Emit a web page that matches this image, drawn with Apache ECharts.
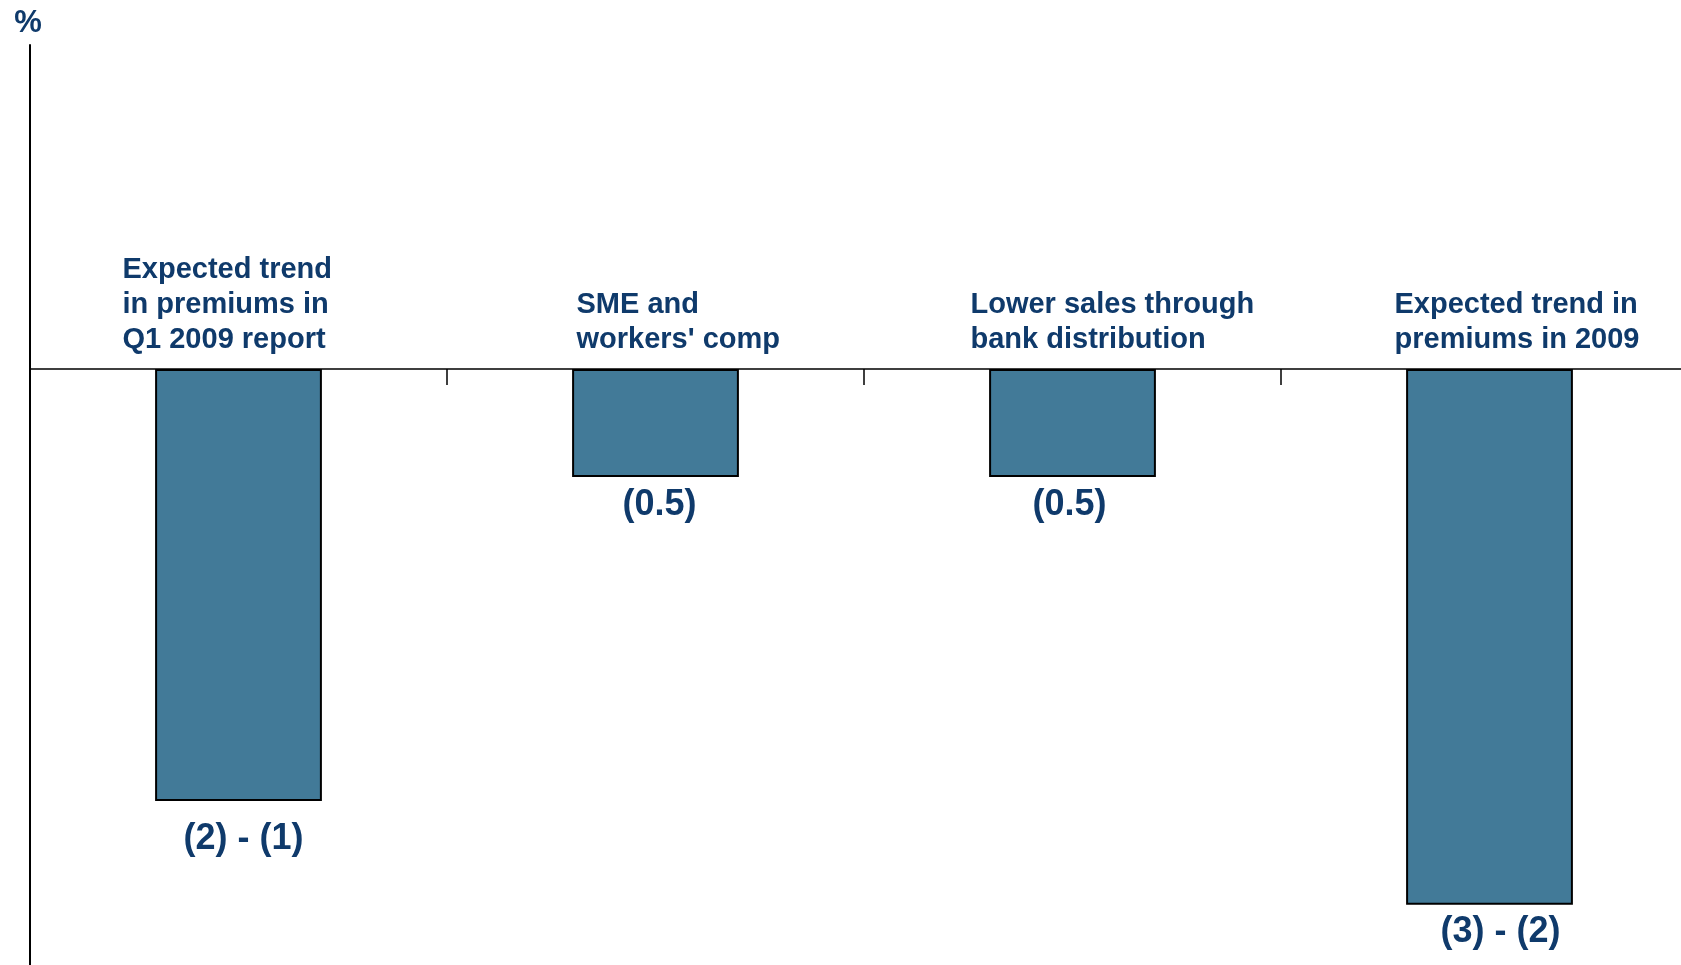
<!DOCTYPE html>
<html><head><meta charset="utf-8">
<script src="https://cdn.jsdelivr.net/npm/echarts@6/dist/echarts.min.js"></script>
<style>html,body{margin:0;padding:0;background:#fff;overflow:hidden;width:1681px;height:965px}#c{width:1700px;height:980px}</style>
</head><body><div id="c"></div>
<script>
const categories = ['Expected trend\nin premiums in\nQ1 2009 report', 'SME and\nworkers\' comp', 'Lower sales through\nbank distribution', 'Expected trend in\npremiums in 2009'];
const values = [-2.0, -0.5, -0.5, -2.48];
const valueLabels = ['(2) - (1)', '(0.5)', '(0.5)', '(3) - (2)'];
const yMin = -2.8, yMax = 1.5;
const unitName = '%';

// label placement tweaks (style only)
const nameOffsets = [[-116, 0], [-79, 0], [-102, 0], [-95, 0]];
const valueOffsets = [[5, 11], [4, 1], [-3, 1], [11, 0]];
const NAVY = '#0f3a6b';
const FONT = '"Liberation Sans", Arial, sans-serif';

const chart = echarts.init(document.getElementById('c'), null, {renderer: 'canvas'});
chart.setOption({
  animation: false,
  grid: {left: 30, top: 45, width: 1668, height: 928.8, containLabel: false},
  xAxis: {
    type: 'category', data: categories,
    axisLine: {onZero: true, lineStyle: {color: '#000', width: 1.5}},
    axisTick: {show: true, length: 16, lineStyle: {color: '#000', width: 1.5}},
    axisLabel: {show: false}, splitLine: {show: false}
  },
  yAxis: {
    type: 'value', min: yMin, max: yMax,
    name: unitName, nameLocation: 'end', nameGap: 22,
    nameTextStyle: {color: NAVY, fontSize: 31, fontWeight: 'bold', fontFamily: FONT, align: 'center', verticalAlign: 'middle', padding: [0, 4, 0, 0]},
    axisLine: {show: true, onZero: false, lineStyle: {color: '#000', width: 2}},
    axisTick: {show: false}, axisLabel: {show: false}, splitLine: {show: false}
  },
  series: [
    {
      type: 'bar', barWidth: '40%',
      data: values.map((v, i) => ({value: v, label: {offset: valueOffsets[i]}})),
      itemStyle: {color: '#427a98', borderColor: '#000', borderWidth: 2},
      label: {show: true, position: 'bottom', distance: 9, formatter: p => valueLabels[p.dataIndex],
        color: NAVY, fontSize: 36, fontWeight: 'bold', fontFamily: FONT}
    },
    {
      type: 'scatter', symbolSize: 0, silent: true, z: 5,
      itemStyle: {opacity: 1},
      data: categories.map((c, i) => ({value: [i, 0], label: {offset: nameOffsets[i]}})),
      label: {show: true, position: 'top', align: 'left', distance: 12, formatter: p => categories[p.dataIndex],
        color: NAVY, opacity: 1, fontSize: 29, lineHeight: 35, fontWeight: 'bold', fontFamily: FONT}
    }
  ]
});
</script></body></html>
